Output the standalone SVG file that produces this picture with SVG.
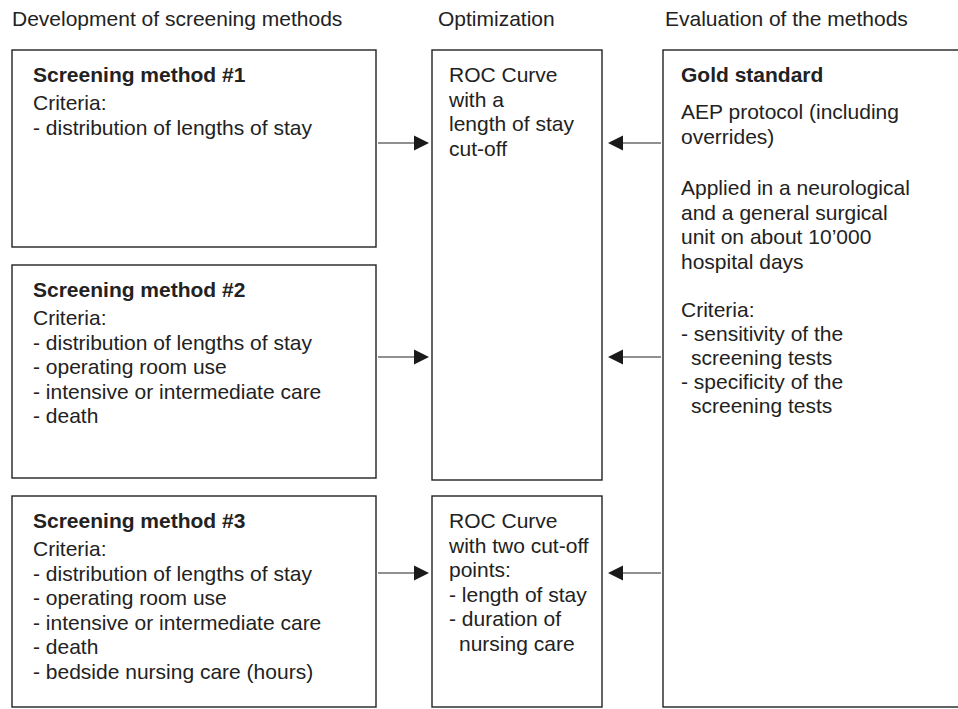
<svg xmlns="http://www.w3.org/2000/svg" width="958" height="709" viewBox="0 0 958 709">
<defs>
<style>
text{font-family:"Liberation Sans",Arial,sans-serif;font-size:21px;fill:#222}
.b{font-weight:bold}
.box{fill:#fff;stroke:#222;stroke-width:1.4}
.ln{stroke:#222;stroke-width:1.1;fill:none}
.hd{fill:#1a1a1a}
</style>
</defs>
<rect width="958" height="709" fill="#fff"/>
<g id="headers">
<text x="12" y="26">Development of screening methods</text>
<text x="438" y="26">Optimization</text>
<text x="665" y="26">Evaluation of the methods</text>
</g>
<g id="method1">
<rect class="box" x="12" y="50" width="364" height="197"/>
<text class="b" x="33" y="82">Screening method #1</text>
<text x="33" y="110">Criteria:</text>
<text x="33" y="135">- distribution of lengths of stay</text>
</g>
<g id="method2">
<rect class="box" x="12" y="265" width="364" height="213"/>
<text class="b" x="33" y="297">Screening method #2</text>
<text x="33" y="325">Criteria:</text>
<text x="33" y="349.5">- distribution of lengths of stay</text>
<text x="33" y="374">- operating room use</text>
<text x="33" y="398.5">- intensive or intermediate care</text>
<text x="33" y="423">- death</text>
</g>
<g id="method3">
<rect class="box" x="12" y="496" width="364" height="211"/>
<text class="b" x="33" y="528">Screening method #3</text>
<text x="33" y="556">Criteria:</text>
<text x="33" y="580.5">- distribution of lengths of stay</text>
<text x="33" y="605">- operating room use</text>
<text x="33" y="629.5">- intensive or intermediate care</text>
<text x="33" y="654">- death</text>
<text x="33" y="678.5">- bedside nursing care (hours)</text>
</g>
<g id="roc1">
<rect class="box" x="432" y="50" width="170" height="430"/>
<text x="449" y="82">ROC Curve</text>
<text x="449" y="106.5">with a</text>
<text x="449" y="131">length of stay</text>
<text x="449" y="155.5">cut-off</text>
</g>
<g id="roc2">
<rect class="box" x="432" y="496" width="170" height="211"/>
<text x="449" y="528">ROC Curve</text>
<text x="449" y="552.5">with two cut-off</text>
<text x="449" y="577">points:</text>
<text x="449" y="601.5">- length of stay</text>
<text x="449" y="626">- duration of</text>
<text x="459" y="650.5">nursing care</text>
</g>
<g id="gold">
<rect class="box" x="663" y="50" width="310" height="657"/>
<text class="b" x="681" y="82">Gold standard</text>
<text x="681" y="119">AEP protocol (including</text>
<text x="681" y="143.5">overrides)</text>
<text x="681" y="195">Applied in a neurological</text>
<text x="681" y="219.5">and a general surgical</text>
<text x="681" y="244">unit on about 10’000</text>
<text x="681" y="268.5">hospital days</text>
<text x="681" y="317">Criteria:</text>
<text x="681" y="341">- sensitivity of the</text>
<text x="691" y="365">screening tests</text>
<text x="681" y="389">- specificity of the</text>
<text x="691" y="413">screening tests</text>
</g>
<g id="connectors">
<line class="ln" x1="378" y1="143" x2="416" y2="143"/>
<polygon class="hd" points="414,135.5 429,143 414,150.5"/>
<line class="ln" x1="378" y1="357" x2="416" y2="357"/>
<polygon class="hd" points="414,349.5 429,357 414,364.5"/>
<line class="ln" x1="378" y1="573" x2="416" y2="573"/>
<polygon class="hd" points="414,565.5 429,573 414,580.5"/>
<line class="ln" x1="621" y1="143" x2="661" y2="143"/>
<polygon class="hd" points="623,135.5 608,143 623,150.5"/>
<line class="ln" x1="621" y1="357" x2="661" y2="357"/>
<polygon class="hd" points="623,349.5 608,357 623,364.5"/>
<line class="ln" x1="621" y1="573" x2="661" y2="573"/>
<polygon class="hd" points="623,565.5 608,573 623,580.5"/>
</g>
</svg>
